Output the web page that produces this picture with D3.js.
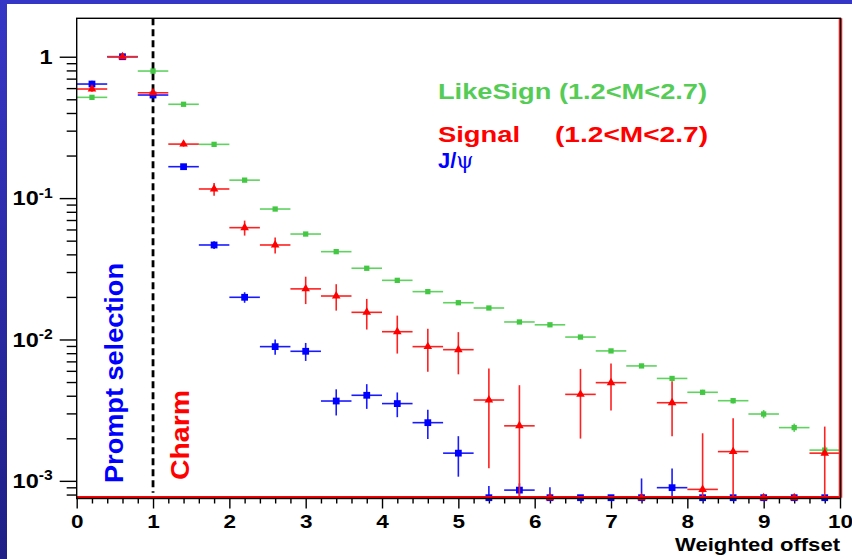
<!DOCTYPE html>
<html>
<head>
<meta charset="utf-8">
<script src="https://cdn.jsdelivr.net/npm/d3@7"></script>
<style>
  body { margin: 0; }
  svg { display: block; }
  text { font-family: "Liberation Sans", Arial, Helvetica, sans-serif; font-weight: bold; }
</style>
</head>
<body>
<svg id="chart" width="852" height="559"></svg>
<script>
// Bin centres of the weighted-offset histograms (bin width 0.4)
const binCenters = [0.2, 0.6, 1.0, 1.4, 1.8, 2.2, 2.6, 3.0, 3.4, 3.8, 4.2, 4.6, 5.0,
                    5.4, 5.8, 6.2, 6.6, 7.0, 7.4, 7.8, 8.2, 8.6, 9.0, 9.4, 9.8];
const binWidth = 0.4;

// Like-sign pairs, 1.2 < M < 2.7
const likeSign    = [0.516, 1.0, 0.792, 0.461, 0.240, 0.134, 0.0837, 0.0557, 0.0418, 0.0319,
                     0.0262, 0.0218, 0.0182, 0.0167, 0.0133, 0.0127, 0.0104, 0.0083, 0.0065,
                     0.0053, 0.00423, 0.00369, 0.00297, 0.00238, 0.00165];
const likeSignErr = [0.005, 0.006, 0.006, 0.004, 0.003, 0.002, 0.0012, 0.0009, 0.0007, 0.0006,
                     0.0005, 0.00045, 0.0004, 0.00038, 0.00033, 0.00032, 0.00029, 0.00025, 0.00022,
                     0.0002, 0.00018, 0.00017, 0.0002, 0.00016, 0.00012];

// Signal, 1.2 < M < 2.7 (empty bins sit on the lower edge)
const signal      = [0.591, 1.0, 0.556, 0.241, 0.116, 0.0618, 0.0466, 0.0228, 0.0203, 0.01556,
                     0.01135, 0.0089, 0.00847, 0.00373, 0.00245, 0, 0.00409, 0.00495, 0,
                     0.00357, 0.00087, 0.00161, 0, 0, 0.00157];
const signalErr   = [0.025, 0.02, 0.015, 0.01, 0.012, 0.0075, 0.006, 0.005, 0.0043, 0.0038,
                     0.0034, 0.003, 0.0028, 0.0025, 0.0023, 0, 0.0021, 0.0018, 0,
                     0.0015, 0.0013, 0.00116, 0, 0, 0.00085];

// J/psi
const jpsi        = [0.641, 1.0, 0.536, 0.1668, 0.0466, 0.01988, 0.0089, 0.00825, 0.00367, 0.00403,
                     0.00352, 0.00258, 0.00157, 0, 0.00086, 0, 0, 0, 0,
                     0.000895, 0, 0, 0, 0, 0];
const jpsiErr     = [0.035, 0.02, 0.015, 0.006, 0.003, 0.0017, 0.0011, 0.0012, 0.00077, 0.0008,
                     0.0007, 0.0006, 0.0005, 0.00092, 0.0001, 0.0009, 0, 0, 0.00104,
                     0.00033, 0, 0, 0, 0, 0];

const xTickValues = [0, 1, 2, 3, 4, 5, 6, 7, 8, 9, 10];
const yDecades    = [1, 0.1, 0.01, 0.001];
const yExponents  = ["", "-1", "-2", "-3"];
const promptCut   = 1;

const svg = d3.select("#chart");
const W = 852, H = 559;

// page background: blue gradient with white canvas
const defs = svg.append("defs");
const grad = defs.append("linearGradient").attr("id", "bg").attr("x1", 0).attr("y1", 0).attr("x2", 0).attr("y2", 1);
grad.append("stop").attr("offset", "0%").attr("stop-color", "#3636c6");
grad.append("stop").attr("offset", "100%").attr("stop-color", "#1f1f86");
svg.append("rect").attr("width", W).attr("height", H).attr("fill", "url(#bg)");
svg.append("rect").attr("x", 7).attr("y", 4).attr("width", W - 7).attr("height", H - 4).attr("fill", "#ffffff");

const plot = { left: 76.7, right: 840, top: 18.3, bottom: 497.7 };
const yMin = 7.6e-4, yMax = 1.87;

const x = d3.scaleLinear().domain([0, 10]).range([plot.left, plot.right]);
const y = d3.scaleLog().domain([yMin, yMax]).range([plot.bottom, plot.top]);
const yc = v => (v <= yMin ? y(yMin) : Math.max(plot.top, y(Math.min(v, yMax))));

// axes
const xMajor = d3.axisBottom(x).tickValues(xTickValues).tickSize(10).tickPadding(6.5).tickSizeOuter(0)
  .tickFormat(d3.format("d"));
const xMinorVals = x.ticks(50).filter(v => Math.abs(v - Math.round(v)) > 1e-6);
const xMinor = d3.axisBottom(x).tickValues(xMinorVals).tickSize(5).tickSizeOuter(0).tickFormat("");

const gxMinor = svg.append("g").attr("transform", `translate(0,${plot.bottom + 0.8})`).call(xMinor);
const gx = svg.append("g").attr("transform", `translate(0,${plot.bottom + 0.8})`).call(xMajor);
[gx, gxMinor].forEach(g => {
  g.select(".domain").remove();
  g.selectAll("line").attr("stroke", "#000").attr("stroke-width", 1.4);
});
gx.selectAll("text").attr("font-size", 18).attr("fill", "#000")
  .attr("transform", "scale(1.25,1)");

const yMinorVals = y.ticks().filter(v => !yDecades.some(d => Math.abs(v / d - 1) < 1e-6));
const yMinor = d3.axisLeft(y).tickValues(yMinorVals).tickSize(10).tickSizeOuter(0).tickFormat("");
const yMajor = d3.axisLeft(y).tickValues(yDecades).tickSize(17).tickPadding(7).tickSizeOuter(0)
  .tickFormat((d, i) => (i === 0 ? "1" : "10"));
const gyMinor = svg.append("g").attr("transform", `translate(${plot.left},0)`).call(yMinor);
const gy = svg.append("g").attr("transform", `translate(${plot.left},0)`).call(yMajor);
[gy, gyMinor].forEach(g => {
  g.select(".domain").remove();
  g.selectAll("line").attr("stroke", "#000").attr("stroke-width", 1.4);
});
gy.selectAll("text").each(function (d, i) {
  const t = d3.select(this);
  t.attr("font-size", 21).attr("fill", "#000").attr("x", 0)
   .attr("transform", "translate(-24,0) scale(1.12,1)");
  if (yExponents[i]) {
    t.append("tspan").attr("font-size", 14).attr("dy", "-0.55em").text(yExponents[i]);
  }
});

// prompt / charm boundary
svg.append("line")
  .attr("x1", x(promptCut)).attr("x2", x(promptCut))
  .attr("y1", plot.top).attr("y2", plot.bottom - 5)
  .attr("stroke", "#000").attr("stroke-width", 2.8).attr("stroke-dasharray", "7,4");

// histogram points with error bars
function drawSeries(vals, errs, color, lineColor, marker, size) {
  const g = svg.append("g");
  const data = binCenters.map((c, i) => ({ c, v: vals[i], e: errs[i] }));
  g.selectAll("path.h").data(data).join("path")
    .attr("d", d => `M${x(d.c - binWidth / 2)},${yc(d.v)}H${x(d.c + binWidth / 2)}`)
    .attr("stroke", lineColor).attr("stroke-width", 1.6).attr("fill", "none");
  g.selectAll("path.v").data(data.filter(d => d.e > 0)).join("path")
    .attr("d", d => `M${x(d.c)},${yc(d.v + d.e)}V${yc(d.v - d.e)}`)
    .attr("stroke", lineColor).attr("stroke-width", 1.6).attr("fill", "none");
  g.selectAll("path.m").data(data).join("path")
    .attr("transform", d => `translate(${x(d.c)},${yc(d.v)})`)
    .attr("d", d3.symbol(marker, size))
    .attr("fill", color);
}
drawSeries(likeSign, likeSignErr, "#44c844", "#5fd25f", d3.symbolSquare, 28);
drawSeries(jpsi, jpsiErr, "#0000ff", "#1a1aff", d3.symbolSquare, 46);
drawSeries(signal, signalErr, "#ff0000", "#ff2020", d3.symbolTriangle, 32);

// frame
svg.append("line").attr("x1", plot.left).attr("x2", plot.right).attr("y1", plot.bottom - 0.8).attr("y2", plot.bottom - 0.8)
  .attr("stroke", "#ff0000").attr("stroke-width", 2);
svg.append("line").attr("x1", plot.right + 0.5).attr("x2", plot.right + 0.5).attr("y1", plot.top).attr("y2", plot.bottom)
  .attr("stroke", "#ff3030").attr("stroke-width", 3.6);
svg.append("rect").attr("x", plot.left).attr("y", plot.top)
  .attr("width", plot.right + 0.5 - plot.left).attr("height", plot.bottom + 0.8 - plot.top)
  .attr("fill", "none").attr("stroke", "#000").attr("stroke-width", 1.4);

// legend text
svg.append("text").attr("x", 438).attr("y", 99.3).attr("font-size", 22).attr("fill", "#55cc55")
  .attr("textLength", 269).attr("lengthAdjust", "spacingAndGlyphs").text("LikeSign (1.2<M<2.7)");
svg.append("text").attr("x", 438).attr("y", 141.7).attr("font-size", 22).attr("fill", "#ff0000")
  .attr("textLength", 82).attr("lengthAdjust", "spacingAndGlyphs").text("Signal");
svg.append("text").attr("x", 555).attr("y", 141.7).attr("font-size", 22).attr("fill", "#ff0000")
  .attr("textLength", 153).attr("lengthAdjust", "spacingAndGlyphs").text("(1.2<M<2.7)");
const jp = svg.append("text").attr("x", 438).attr("y", 167.5).attr("font-size", 22).attr("fill", "#0000ff");
jp.append("tspan").text("J/");
jp.append("tspan").attr("font-family", "\"DejaVu Serif\", serif").attr("font-weight", "normal")
  .attr("font-size", 22).text("ψ");

// region labels
svg.append("text").attr("transform", `translate(123,483) rotate(-90)`)
  .attr("font-size", 26).attr("fill", "#0000ff")
  .attr("textLength", 220).attr("lengthAdjust", "spacingAndGlyphs").text("Prompt selection");
svg.append("text").attr("transform", `translate(189,480) rotate(-90)`)
  .attr("font-size", 26).attr("fill", "#ff0000")
  .attr("textLength", 90).attr("lengthAdjust", "spacingAndGlyphs").text("Charm");

// axis title
svg.append("text").attr("x", plot.right).attr("y", 550.7).attr("text-anchor", "end")
  .attr("font-size", 19).attr("fill", "#000")
  .attr("textLength", 165).attr("lengthAdjust", "spacingAndGlyphs").text("Weighted offset");
</script>
</body>
</html>
